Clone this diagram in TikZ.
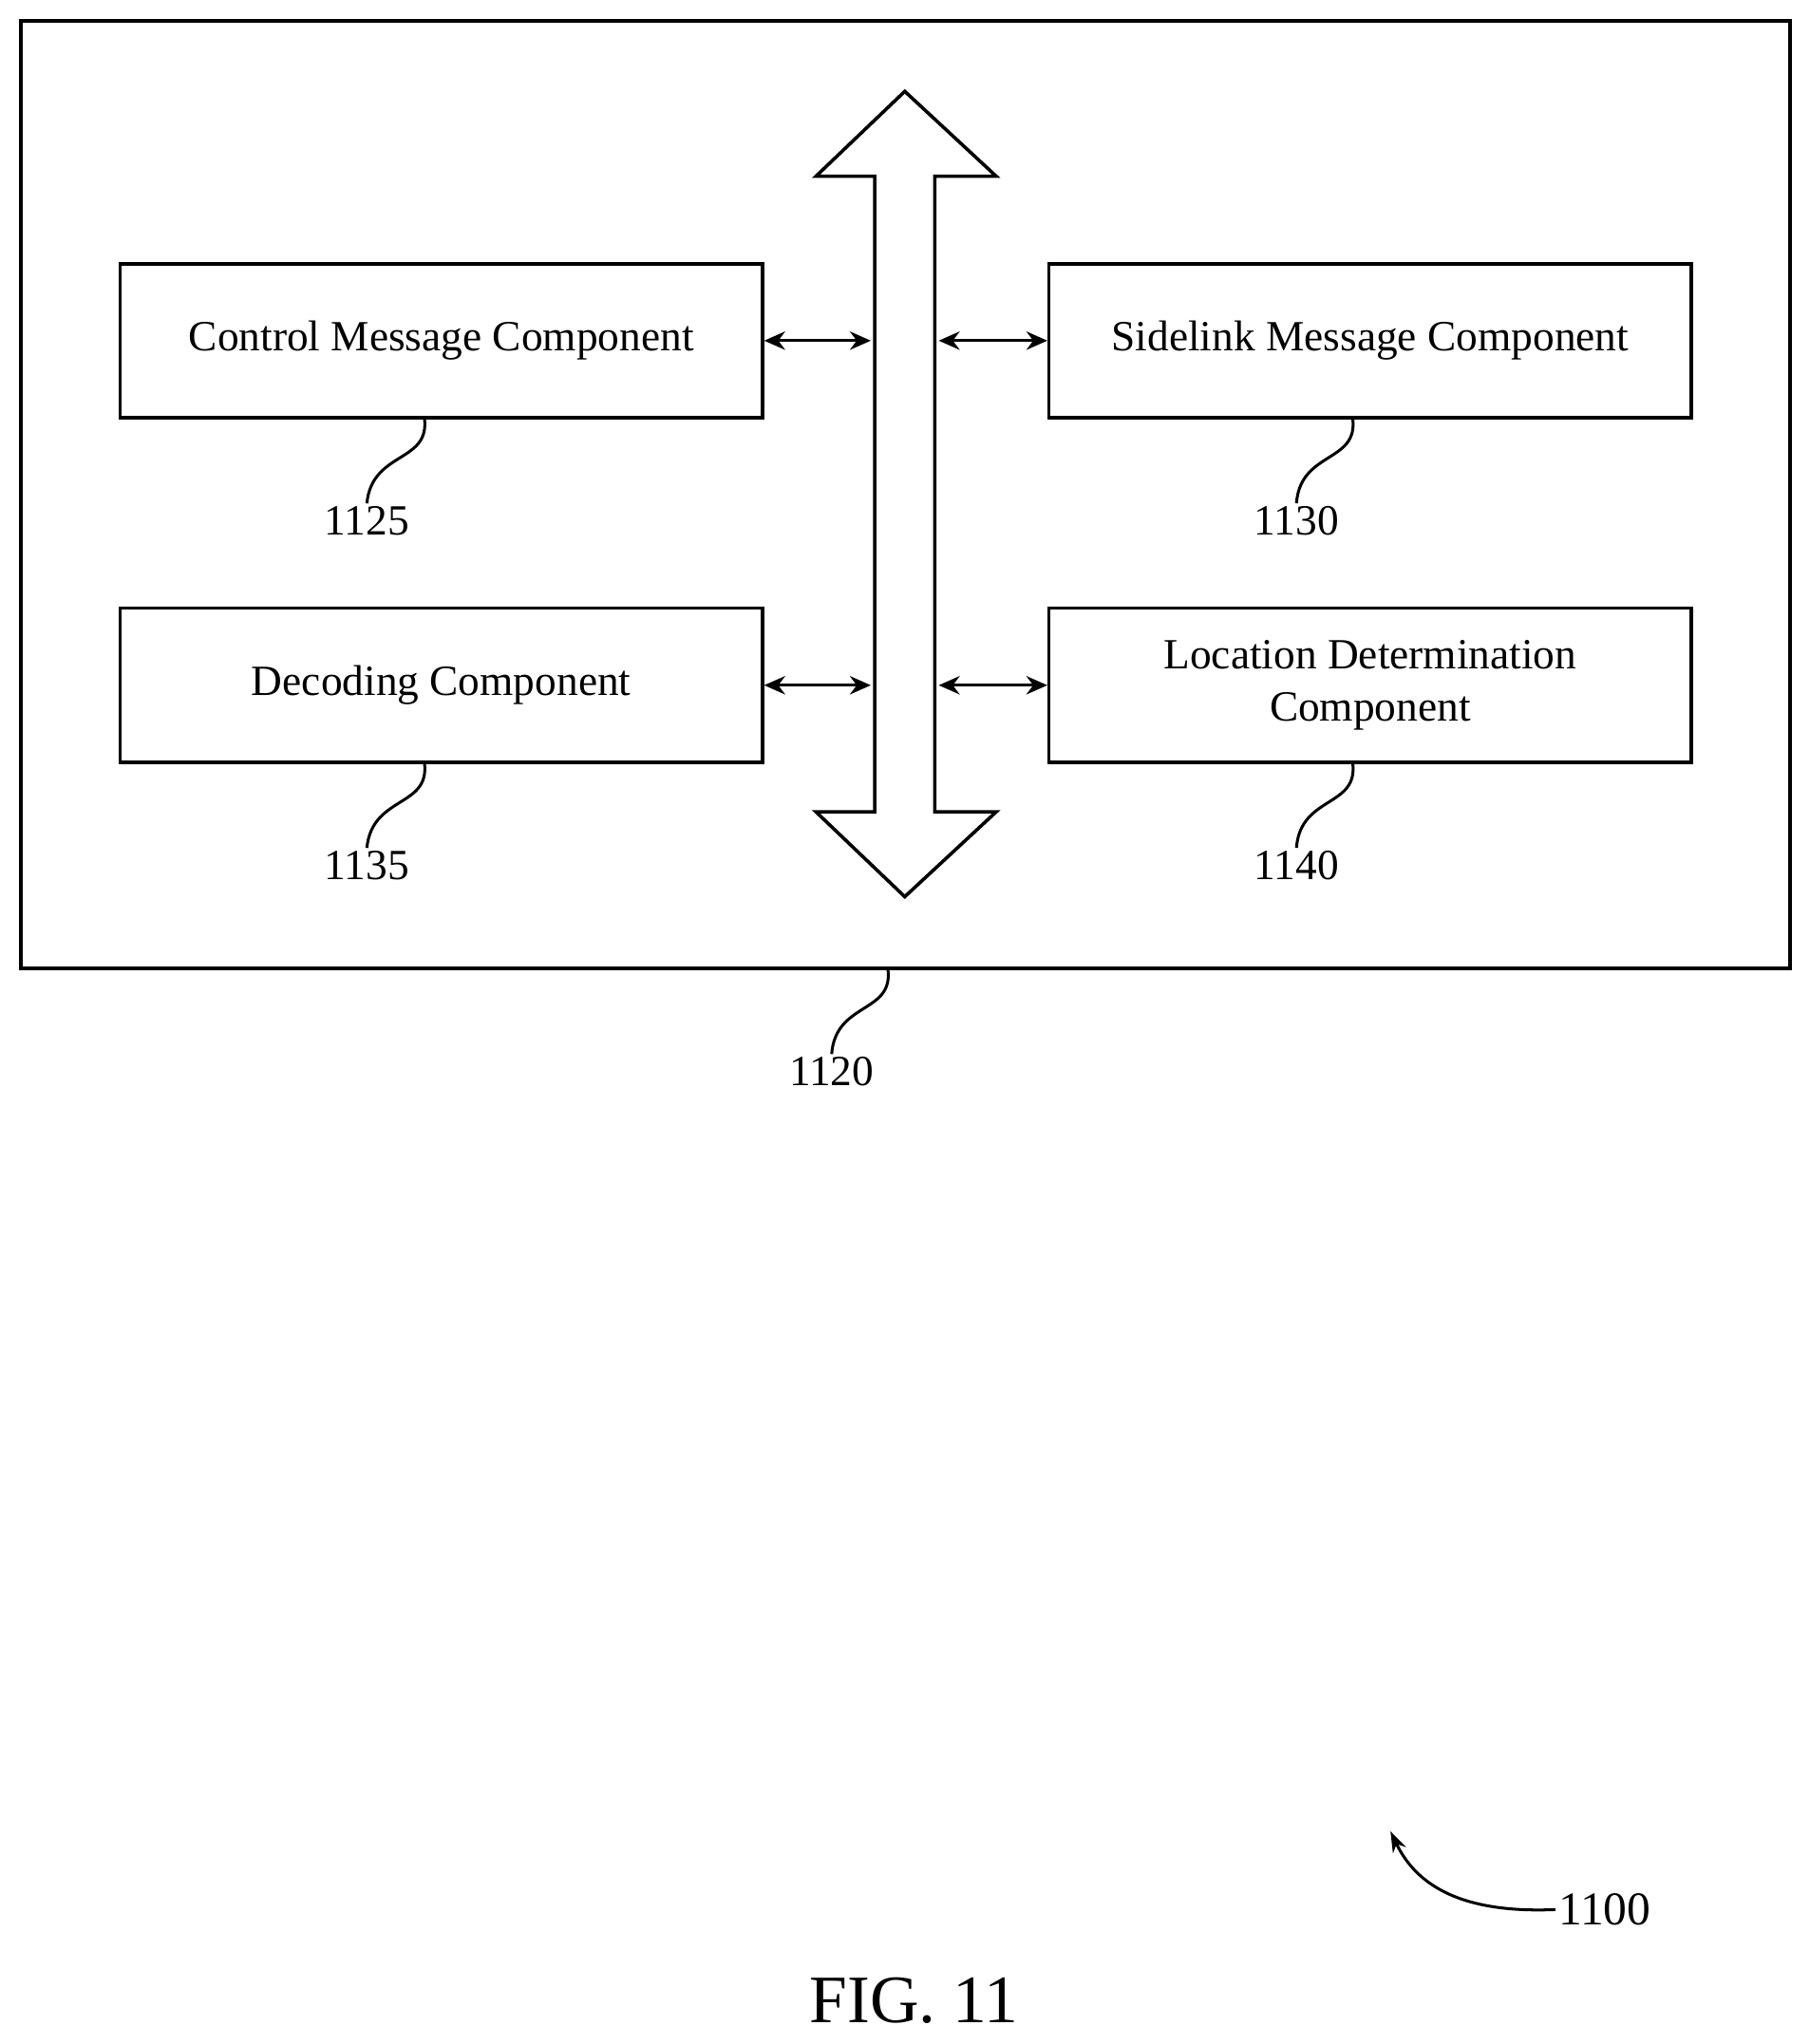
\documentclass[tikz,border=0pt]{standalone}
\usepackage{fontspec}
\setmainfont{Liberation Serif}
\usetikzlibrary{arrows.meta}
\begin{document}
\begin{tikzpicture}[x=1pt,y=-1pt,line width=2.6pt,
  box/.style={draw,minimum width=492pt,minimum height=118pt,align=center,font=\fontsize{33}{40}\selectfont,inner sep=0pt},
  lab/.style={font=\fontsize{33}{40}\selectfont,inner sep=1pt},
  dbl/.style={{Stealth[length=16pt,width=14pt]}-{Stealth[length=16pt,width=14pt]},line width=2.4pt},
  sq/.style={line width=2.2pt}]
\useasboundingbox (0,0) rectangle (1386,1566);
\node[draw,minimum width=1355pt,minimum height=726pt,inner sep=0pt] (outer) at (693.5,379) {};
\node[box] (cm) at (338,261) {Control Message Component};
\node[box] (sm) at (1049.5,261) {Sidelink Message Component};
\node[box] (dc) at (338,525) {Decoding Component};
\node[box] (lc) at (1049.5,525) {Location Determination\\Component};
\draw[line join=miter] (670,135) -- (625,135) -- (693,70) -- (763,135) -- (716,135) -- (716,622) -- (763,622) -- (693,687) -- (625,622) -- (670,622) -- cycle;
\coordinate (l1) at (667,261); \coordinate (r1) at (719,261);
\coordinate (l2) at (667,525); \coordinate (r2) at (719,525);
\draw[dbl] (cm.east) -- (l1);
\draw[dbl] (r1) -- (sm.west);
\draw[dbl] (dc.east) -- (l2);
\draw[dbl] (r2) -- (lc.west);
\node[lab] (n1125) at (281,399) {1125};
\node[lab] (n1130) at (993,399) {1130};
\node[lab] (n1135) at (281,663) {1135};
\node[lab] (n1140) at (993,663) {1140};
\node[lab] (n1120) at (637,821) {1120};
\coordinate (a1) at (325,320); \coordinate (a2) at (1036,320);
\coordinate (a3) at (325,584); \coordinate (a4) at (1036,584);
\coordinate (a5) at (680,742);
\draw[sq] (a1) .. controls (330,355) and (285,345) .. (n1125.north);
\draw[sq] (a2) .. controls (1041,355) and (996,345) .. (n1130.north);
\draw[sq] (a3) .. controls (330,619) and (285,609) .. (n1135.north);
\draw[sq] (a4) .. controls (1041,619) and (996,609) .. (n1140.north);
\draw[sq] (a5) .. controls (685,777) and (640,767) .. (n1120.north);
\node[font=\fontsize{36}{42}\selectfont,inner sep=1pt] (n1100) at (1229,1463) {1100};
\coordinate (t) at (1065,1403);
\draw[sq,-{Stealth[length=16pt,width=11pt]}] (n1100.west) .. controls (1120,1466) and (1085,1445) .. (t);
\node[font=\fontsize{52}{60}\selectfont] (fig) at (700,1533) {FIG. 11};
\end{tikzpicture}
\end{document}
